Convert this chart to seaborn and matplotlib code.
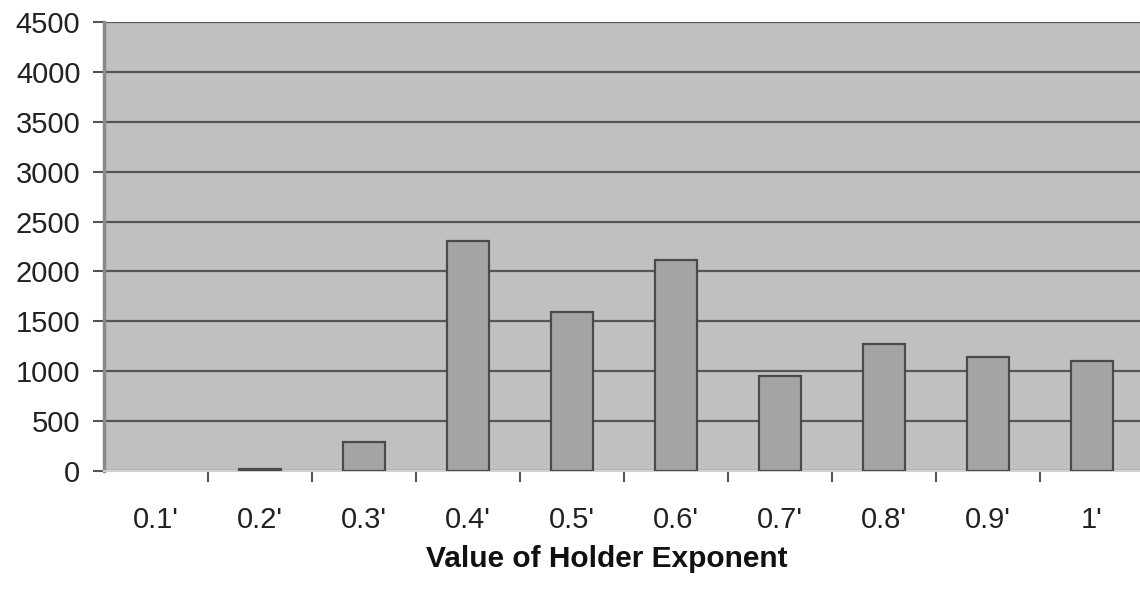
import matplotlib
matplotlib.use("Agg")
import matplotlib.pyplot as plt
import seaborn as sns
import numpy as np
from matplotlib.ticker import FixedLocator, MultipleLocator

categories = ["0.1'", "0.2'", "0.3'", "0.4'", "0.5'", "0.6'", "0.7'", "0.8'", "0.9'", "1'"]
counts = [0, 22, 288, 2305, 1598, 2118, 948, 1275, 1142, 1102]
xlabel = "Value of Holder Exponent"

sns.set_theme(style="white")
plt.rcParams['font.family'] = ['Liberation Sans', 'DejaVu Sans']

fig = plt.figure(figsize=(11.4, 5.93), dpi=100)
ax = fig.add_axes([104/1140, 1 - 471/593, 1 - 104/1140, (471 - 22)/593])
ax.set_facecolor("#c0c0c0")

sns.barplot(x=categories, y=counts, color="#a4a4a4", saturation=1, width=0.4,
            edgecolor="#4a4a4a", linewidth=1.6, ax=ax, zorder=3)
for p in ax.patches:
    if p.get_height() == 0:
        p.set_linewidth(0)

ax.set_ylim(0, 4500)
ax.set_xlim(-0.5, 9.5 - 4/104)
ax.yaxis.set_major_locator(MultipleLocator(500))
ax.grid(axis="y", color="#555555", linewidth=1.6, zorder=0)
ax.set_axisbelow(True)

ax.xaxis.set_minor_locator(FixedLocator(np.arange(0.5, 9.5, 1.0)))
ax.tick_params(axis="x", which="major", length=0, pad=25, labelsize=21, colors="#222222")
ax.tick_params(axis="x", which="minor", length=8, width=1.5, color="#555555", direction="out", bottom=True)
ax.tick_params(axis="y", which="major", length=8, width=1.5, color="#555555", direction="out", left=True,
               pad=9, labelsize=21, labelcolor="#222222")

for s in ["top", "right"]:
    ax.spines[s].set_visible(False)
ax.spines["left"].set_color("#8a8a8a")
ax.spines["left"].set_linewidth(2.5)
ax.spines["bottom"].set_color("#d0d0d0")
ax.spines["bottom"].set_linewidth(1.5)

ax.set_xlabel(xlabel, fontsize=21.5, fontweight="bold", color="#111111")
ax.xaxis.set_label_coords((607 - 104) / (1140 - 104), -(555 - 471) / (471 - 22), transform=None) if False else None
ax.xaxis.set_label_coords((607 - 104) / (1140 - 104), -(545 - 471) / (471 - 22))
ax.xaxis.label.set_va("top")
ax.set_ylabel("")

fig.savefig("out.png", dpi=100, facecolor="white")
